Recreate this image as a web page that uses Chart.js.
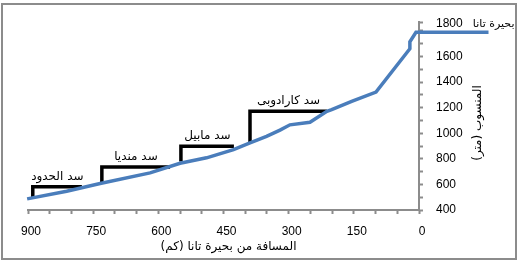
<!DOCTYPE html>
<html>
<head>
<meta charset="utf-8">
<script src="https://cdn.jsdelivr.net/npm/chart.js@4.4.1/dist/chart.umd.min.js"></script>
<style>
  html, body { margin: 0; padding: 0; background: #fff; }
</style>
</head>
<body>
<canvas id="profile" width="519" height="265"></canvas>
<script>
// river profile: distance from Lake Tana (km) and elevation (m)
const profileKm   = [-160, 7, 21, 21, 99, 155, 201, 212, 251, 297, 320, 351, 389, 427, 489, 550, 619, 734, 811, 902];
const profileElev = [1790, 1790, 1716, 1661, 1322, 1250, 1185, 1172, 1086, 1066, 1025, 976, 925, 872, 808, 765, 690, 607, 547, 487];

// dams: position, river bed at the dam, reservoir level, reservoir tail
const damNames = ['سد الحدود', 'سد منديا', 'سد مابيل', 'سد كارادوبى'];
const damKm    = [889, 730, 548, 389];
const damBase  = [500, 612, 779, 925];
const damLevel = [581, 736, 898, 1172];
const damEnd   = [776, 573, 426, 212];

const lakeLabel = 'بحيرة تانا';
const xTitle = 'المسافة من بحيرة تانا (كم)';
const yTitle = 'المنسوب (متر)';

const xTickLabels = [900, 750, 600, 450, 300, 150, 0];
const yTickLabels = [400, 600, 800, 1000, 1200, 1400, 1600, 1800];

const axisGray = '#8c8c8c';
const arabicFont = '12px "DejaVu Sans", "Liberation Sans", sans-serif';

Chart.defaults.font.family = '"Liberation Sans", Arial, sans-serif';
Chart.defaults.font.size = 12;
Chart.defaults.color = '#000';

const datasets = [{
  data: profileKm.map((k, i) => ({ x: k, y: profileElev[i] })),
  showLine: true,
  borderColor: '#4a7dbb',
  borderWidth: 3.5,
  pointRadius: 0,
  tension: 0,
  clip: false
}];
damNames.forEach((name, i) => {
  datasets.push({
    data: [
      { x: damKm[i], y: damBase[i] },
      { x: damKm[i], y: damLevel[i] },
      { x: damEnd[i], y: damLevel[i] }
    ],
    showLine: true,
    borderColor: '#000',
    borderWidth: 3.5,
    borderJoinStyle: 'miter',
    pointRadius: 0,
    tension: 0,
    clip: false
  });
});

const annotate = {
  id: 'annotate',
  beforeDraw(chart) {
    const ctx = chart.ctx;
    ctx.save();
    ctx.fillStyle = '#fff';
    ctx.fillRect(0, 0, chart.width, chart.height);
    ctx.strokeStyle = axisGray;
    ctx.lineWidth = 2;
    ctx.strokeRect(2, 4, 514, 255);
    ctx.restore();
  },
  afterDraw(chart) {
    const { ctx, chartArea } = chart;
    const x = chart.scales.x, y = chart.scales.y;
    ctx.save();
    ctx.font = arabicFont;
    ctx.fillStyle = '#000';
    ctx.direction = 'rtl';
    ctx.textBaseline = 'middle';
    ctx.textAlign = 'center';
    // dam names centred over each reservoir
    damNames.forEach((name, i) => {
      const cx = (x.getPixelForValue(damKm[i]) + x.getPixelForValue(damEnd[i])) / 2;
      ctx.fillText(name, cx, y.getPixelForValue(damLevel[i]) - 10);
    });
    // lake name just above the end of the lake line
    ctx.font = '11px "DejaVu Sans", sans-serif';
    ctx.textAlign = 'right';
    ctx.fillText(lakeLabel, x.getPixelForValue(profileKm[0]) + 26, y.getPixelForValue(profileElev[0]) - 8);
    // axis titles
    ctx.font = arabicFont;
    ctx.textAlign = 'center';
    ctx.fillText(xTitle, (chartArea.left + chartArea.right) / 2 + 5, chartArea.bottom + 37);
    ctx.translate(chartArea.right + 59, 123);
    ctx.rotate(-Math.PI / 2);
    ctx.fillText(yTitle, 0, 0);
    ctx.restore();
  }
};

new Chart('profile', {
  type: 'scatter',
  data: { datasets },
  plugins: [annotate],
  options: {
    responsive: false,
    devicePixelRatio: 1,
    animation: false,
    layout: { padding: { left: 28, top: 22, right: 0, bottom: 0 } },
    plugins: { legend: { display: false }, tooltip: { enabled: false } },
    scales: {
      x: {
        type: 'linear',
        reverse: true,
        min: 0,
        max: 900,
        afterBuildTicks: (s) => {
          const t = [];
          for (let v = 0; v <= 900; v += 50) t.push({ value: v });
          s.ticks = t;
        },
        afterFit: (s) => { s.height = 55; },
        ticks: {
          autoSkip: false,
          maxRotation: 0,
          padding: 10,
          labelOffset: 3,
          callback: (v) => xTickLabels.includes(v) ? String(v) : ''
        },
        grid: { drawOnChartArea: false, drawTicks: true, tickLength: 4, tickColor: axisGray, tickWidth: 2 },
        border: { display: true, color: axisGray, width: 2 }
      },
      y: {
        type: 'linear',
        position: 'right',
        min: 400,
        max: 1870,
        afterBuildTicks: (s) => {
          const t = [];
          for (let v = 400; v <= 1800; v += 100) t.push({ value: v });
          t.push({ value: 1870 });
          s.ticks = t;
        },
        afterFit: (s) => { s.width = 100; },
        ticks: {
          autoSkip: false,
          padding: 13,
          callback: (v) => {
            if (!yTickLabels.includes(v)) return '';
            return v === 1800 ? [String(v), ''] : String(v);
          }
        },
        grid: { drawOnChartArea: false, drawTicks: true, tickLength: 4, tickColor: axisGray, tickWidth: 2 },
        border: { display: true, color: axisGray, width: 2 }
      }
    }
  }
});
</script>
</body>
</html>
